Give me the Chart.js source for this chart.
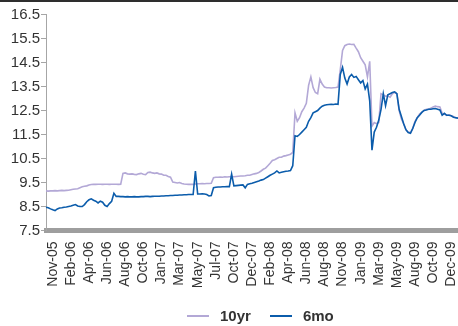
<!DOCTYPE html>
<html>
<head>
<meta charset="utf-8">
<script src="https://cdn.jsdelivr.net/npm/chart.js@4/dist/chart.umd.min.js"></script>
<style>
  html, body { margin: 0; padding: 0; background: #fff; }
  #wrap { position: relative; width: 458px; height: 326px; overflow: hidden; }
  #topRule { position: absolute; left: 0; top: 0; width: 458px; height: 2px; background: #2e2e2e; }
  #legend {
    position: absolute; left: 187px; top: 306px; height: 19px;
    display: flex; align-items: center;
    font-family: 'Liberation Sans', Arial, sans-serif; font-weight: bold; font-size: 15px; color: #333;
  }
  #legend .item { display: flex; align-items: center; margin-right: 19px; }
  #legend .swatch { width: 22px; height: 2px; margin-right: 11px; }
</style>
</head>
<body>
<div id="wrap">
  <canvas id="c"></canvas>
  <div id="topRule"></div>
  <div id="legend"></div>
</div>
<script>
// Axis labels shown along the bottom, one every `tickEvery` observations
const tickLabels = ['Nov-05','Feb-06','Apr-06','Jun-06','Aug-06','Oct-06','Jan-07','Mar-07',
  'May-07','Jul-07','Oct-07','Dec-07','Feb-08','Apr-08','Jun-08','Aug-08','Nov-08','Jan-09',
  'Mar-09','May-09','Aug-09','Oct-09','Dec-09'];
const firstTickIndex = 3;
const tickEvery = 8;

// 10-year yield (%)
const yield10yr = [
  9.15, 9.14, 9.15, 9.15, 9.16, 9.15, 9.16, 9.17, 9.16, 9.17,
  9.18, 9.20, 9.22, 9.23, 9.24, 9.28, 9.32, 9.34, 9.36, 9.40,
  9.42, 9.43, 9.42, 9.43, 9.43, 9.42, 9.43, 9.43, 9.42, 9.43,
  9.43, 9.43, 9.42, 9.43, 9.88, 9.90, 9.86, 9.85, 9.86, 9.84,
  9.83, 9.86, 9.88, 9.84, 9.83, 9.92, 9.93, 9.90, 9.88, 9.90,
  9.86, 9.85, 9.80, 9.80, 9.75, 9.72, 9.52, 9.50, 9.48, 9.50,
  9.46, 9.44, 9.43, 9.42, 9.43, 9.42, 9.44, 9.45, 9.45, 9.46,
  9.45, 9.46, 9.46, 9.47, 9.70, 9.72, 9.72, 9.73, 9.72, 9.74,
  9.73, 9.74, 9.75, 9.74, 9.75, 9.76, 9.77, 9.77, 9.78, 9.80,
  9.80, 9.83, 9.86, 9.88, 9.92, 9.98, 10.05, 10.10, 10.20, 10.30,
  10.42, 10.45, 10.50, 10.55, 10.55, 10.60, 10.62, 10.65, 10.68, 10.75,
  12.40, 12.05, 12.20, 12.45, 12.60, 12.80, 13.55, 13.90, 13.45, 13.25,
  13.20, 13.80, 13.60, 13.48, 13.45, 13.45, 13.44, 13.45, 13.46, 13.48,
  14.20, 15.00, 15.20, 15.25, 15.27, 15.25, 15.26, 15.10, 14.95, 14.70,
  14.55, 14.40, 13.90, 14.55, 11.85, 12.00, 11.95, 12.00, 13.20, 13.15,
  13.10, 13.10, 13.05, 13.20, 13.25, 13.20, 12.50, 12.15, 11.95, 11.70,
  11.60, 11.58, 11.75, 12.05, 12.20, 12.35, 12.42, 12.50, 12.55, 12.55,
  12.60, 12.65, 12.68, 12.66, 12.65, 12.38, 12.35, 12.30, 12.32, 12.28,
  12.25, 12.20, 12.18
];

// 6-month yield (%)
const yield6mo = [
  8.47, 8.45, 8.40, 8.36, 8.33, 8.40, 8.44, 8.45, 8.47, 8.48,
  8.50, 8.52, 8.55, 8.58, 8.52, 8.50, 8.50, 8.58, 8.70, 8.78,
  8.82, 8.76, 8.72, 8.65, 8.72, 8.68, 8.55, 8.50, 8.62, 8.72,
  9.05, 8.92, 8.92, 8.91, 8.91, 8.90, 8.91, 8.90, 8.90, 8.91,
  8.90, 8.90, 8.91, 8.91, 8.92, 8.92, 8.91, 8.92, 8.93, 8.93,
  8.93, 8.94, 8.94, 8.95, 8.95, 8.96, 8.96, 8.97, 8.97, 8.98,
  8.98, 8.99, 8.99, 9.00, 9.00, 9.00, 9.98, 9.02, 9.02, 9.03,
  9.02, 9.00, 8.94, 8.96, 9.28, 9.30, 9.31, 9.31, 9.32, 9.32,
  9.33, 9.33, 9.85, 9.36, 9.37, 9.38, 9.39, 9.40, 9.28, 9.42,
  9.45, 9.47, 9.50, 9.53, 9.56, 9.60, 9.62, 9.68, 9.74, 9.80,
  9.85, 9.90, 9.98, 9.90, 9.93, 9.95, 9.97, 9.98, 10.00, 10.20,
  11.45, 11.42, 11.50, 11.60, 11.70, 11.80, 12.05, 12.20, 12.40, 12.45,
  12.50, 12.60, 12.68, 12.72, 12.74, 12.75, 12.76, 12.75, 12.77, 12.76,
  14.00, 14.30, 13.85, 13.60, 13.90, 14.00, 13.88, 13.92, 13.78, 13.65,
  13.75, 13.40, 13.60, 12.90, 10.85, 11.60, 11.80, 12.10, 12.55, 13.20,
  12.70, 13.15, 13.20, 13.25, 13.28, 13.20, 12.55, 12.25, 11.95, 11.70,
  11.58, 11.55, 11.75, 12.00, 12.20, 12.30, 12.42, 12.50, 12.52, 12.55,
  12.55, 12.57, 12.58, 12.55, 12.52, 12.30, 12.38, 12.30, 12.30, 12.28,
  12.22, 12.20, 12.18
];

const yTicks = [7.5, 8.5, 9.5, 10.5, 11.5, 12.5, 13.5, 14.5, 15.5, 16.5];

const observations = yield10yr.map((_, i) => i);

const FONT = "'Liberation Sans', Arial, sans-serif";
const purple = '#b3a8d6';
const blue = '#0b5cab';

// 10yr is listed first in the legend; 6mo is drawn on top of it
const series = [
  { label: '10yr', data: yield10yr, color: purple, order: 2 },
  { label: '6mo', data: yield6mo, color: blue, order: 1 }
];

const chart = new Chart(document.getElementById('c'), {
  type: 'line',
  data: {
    labels: observations,
    datasets: series.map(s => ({
      label: s.label, data: s.data, order: s.order,
      borderColor: s.color, backgroundColor: s.color,
      borderWidth: 1.6, pointRadius: 0, tension: 0
    }))
  },
  options: {
    responsive: true,
    maintainAspectRatio: false,
    animation: false,
    layout: { padding: { left: 11, right: 0, top: 14.5, bottom: 0 } },
    plugins: {
      tooltip: { enabled: false },
      legend: { display: false }
    },
    scales: {
      x: {
        type: 'category',
        offset: false,
        grid: { display: false },
        border: { display: true, color: '#9e9e9e', width: 5 },
        afterFit: (scale) => { scale.height = 95.5; scale.paddingLeft = 0; scale.paddingRight = 0; },
        ticks: {
          autoSkip: false, maxRotation: 90, minRotation: 90, padding: 3,
          color: '#333', font: { family: FONT, size: 14 },
          callback: (v, i) => {
            const k = i - firstTickIndex;
            return (k >= 0 && k % tickEvery === 0) ? tickLabels[k / tickEvery] : '';
          }
        }
      },
      y: {
        min: 7.5, max: 16.5,
        afterBuildTicks: (scale) => { scale.ticks = yTicks.map(v => ({ value: v })); },
        afterFit: (scale) => { scale.width = 35; },
        grid: { drawOnChartArea: false, drawTicks: true, tickLength: 5, color: '#a6a6a6' },
        border: { display: true, color: '#a6a6a6', width: 1 },
        ticks: {
          padding: 1, color: '#333', font: { family: FONT, size: 15 },
          callback: (v) => Number(v).toFixed(1)
        }
      }
    }
  }
});

// Legend row built from the datasets
const legendEl = document.getElementById('legend');
series.forEach(s => {
  const item = document.createElement('div');
  item.className = 'item';
  const sw = document.createElement('span');
  sw.className = 'swatch';
  sw.style.background = s.color;
  const txt = document.createElement('span');
  txt.textContent = s.label;
  item.appendChild(sw);
  item.appendChild(txt);
  legendEl.appendChild(item);
});
</script>
</body>
</html>
